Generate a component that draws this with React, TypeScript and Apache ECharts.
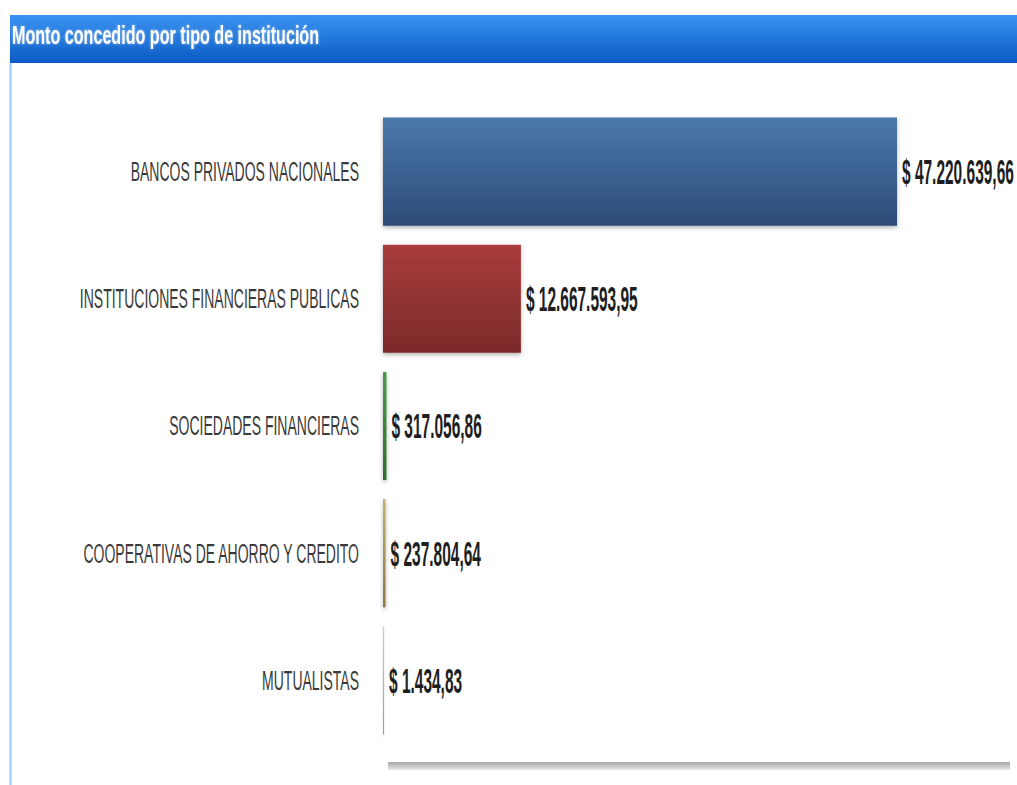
import React, { useEffect, useRef } from "react";
import * as echarts from "echarts";

const categories = [
  "BANCOS PRIVADOS NACIONALES",
  "INSTITUCIONES FINANCIERAS PUBLICAS",
  "SOCIEDADES FINANCIERAS",
  "COOPERATIVAS DE AHORRO Y CREDITO",
  "MUTUALISTAS",
];
const values = [47220639.66, 12667593.95, 317056.86, 237804.64, 1434.83];
const topColors = ["#4b78ab", "#a83c3c", "#4a9a4a", "#c4b070", "#b8d8e6"];
const bottomColors = ["#2c4c78", "#7c2a2a", "#2e6e2e", "#8c7a44", "#7aa4b8"];
const titleText = "Monto concedido por tipo de institución";

const FONT = "'Liberation Sans', Arial, sans-serif";

function formatMoney(v: number): string {
  const [intPart, dec] = v.toFixed(2).split(".");
  const withDots = intPart.replace(/\B(?=(\d{3})+(?!\d))/g, ".");
  return "$ " + withDots + "," + dec;
}

export default function App() {
  const ref = useRef<HTMLDivElement>(null);
  useEffect(() => {
    if (!ref.current) return;
    const chart = echarts.init(ref.current, undefined, { renderer: "svg" });
    const staticGraphics: any[] = [
      {
        type: "rect",
        shape: { x: 10, y: 15, width: 1007, height: 48 },
        style: {
          fill: new echarts.graphic.LinearGradient(0, 0, 0, 1, [
            { offset: 0, color: "#3a93f0" },
            { offset: 1, color: "#0a5ac4" },
          ]),
        },
      },
      {
        type: "text",
        x: 12,
        y: 35,
        scaleX: 0.62,
        style: {
          text: titleText,
          fill: "#ffffff",
          font: "bold 26px " + FONT,
          verticalAlign: "middle",
          textShadowColor: "rgba(255,255,255,0.5)",
          textShadowBlur: 3,
        },
      },
      {
        type: "line",
        shape: { x1: 10.5, y1: 63, x2: 10.5, y2: 785 },
        style: { stroke: "#9ccaf2", lineWidth: 2 },
      },
      {
        type: "rect",
        shape: { x: 388, y: 762, width: 622, height: 8 },
        style: {
          fill: new echarts.graphic.LinearGradient(0, 0, 0, 1, [
            { offset: 0, color: "#a8a8a8" },
            { offset: 1, color: "#e6e6e6" },
          ]),
        },
      },
    ];
    chart.setOption({
      animation: false,
      backgroundColor: "#ffffff",
      grid: { left: 383, right: 7, top: 108, bottom: 41, containLabel: false },
      xAxis: {
        type: "value",
        min: 0,
        max: 57600000,
        show: false,
      },
      yAxis: {
        type: "category",
        data: categories,
        inverse: true,
        axisLine: { show: false },
        axisTick: { show: false },
        axisLabel: { show: false },
      },
      series: [
        {
          type: "bar",
          barCategoryGap: "15%",
          barMinHeight: 1,
          data: values.map((v, i) => ({
            value: v,
            itemStyle: {
              color: new echarts.graphic.LinearGradient(0, 0, 0, 1, [
                { offset: 0, color: topColors[i] },
                { offset: 1, color: bottomColors[i] },
              ]),
            },
          })),
          itemStyle: {
            shadowBlur: 4,
            shadowColor: "rgba(0,0,0,0.3)",
            shadowOffsetY: 2,
          },
          label: { show: false },
        },
      ],
      graphic: staticGraphics,
    });

    const labelGraphics: any[] = [];
    categories.forEach((cat, i) => {
      const p0 = chart.convertToPixel({ gridIndex: 0 }, [0, i]) as number[];
      const p1 = chart.convertToPixel({ gridIndex: 0 }, [values[i], i]) as number[];
      const barEnd = Math.max(p1[0], p0[0] + 1);
      labelGraphics.push({
        type: "text",
        x: p0[0] - 24,
        y: p0[1],
        scaleX: 0.5,
        style: {
          text: cat,
          fill: "#3a3a3a",
          font: "28px " + FONT,
          align: "right",
          verticalAlign: "middle",
        },
      });
      labelGraphics.push({
        type: "text",
        x: barEnd + 5,
        y: p1[1],
        scaleX: 0.43,
        style: {
          text: formatMoney(values[i]),
          fill: "#1e1e1e",
          font: "bold 36px " + FONT,
          align: "left",
          verticalAlign: "middle",
        },
      });
    });
    chart.setOption({ graphic: staticGraphics.concat(labelGraphics) });

    return () => chart.dispose();
  }, []);
  return (
    <div
      ref={ref}
      style={{ position: "fixed", left: 0, top: 0, width: 1017, height: 785 }}
    />
  );
}
